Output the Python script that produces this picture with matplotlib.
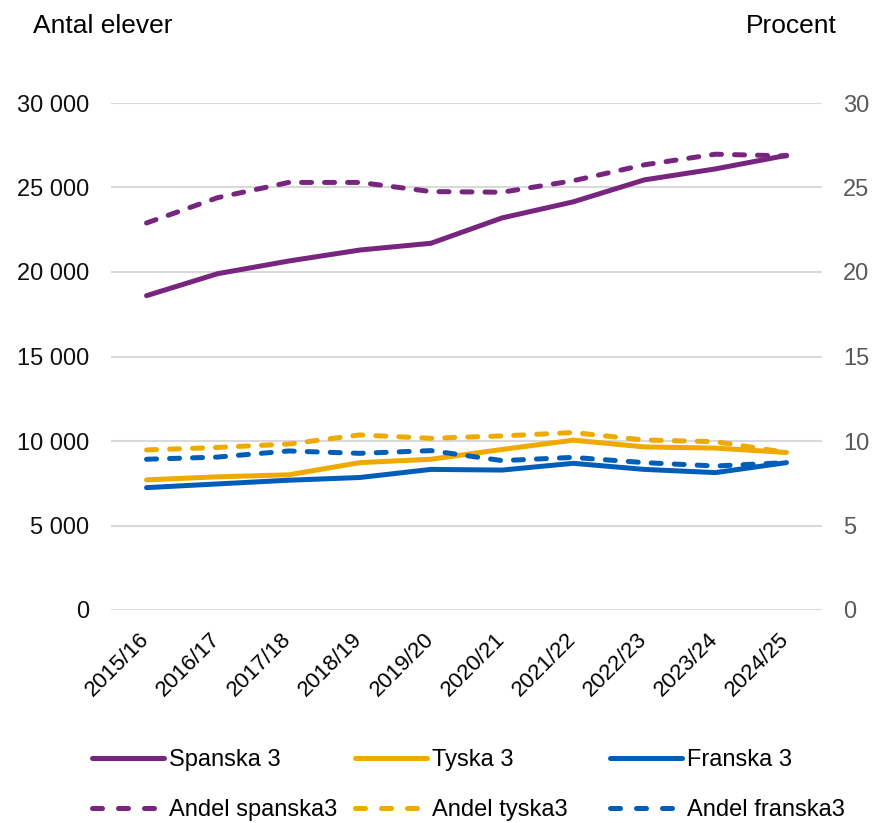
import matplotlib
matplotlib.use("Agg")
import matplotlib.pyplot as plt
from matplotlib.ticker import FuncFormatter
from matplotlib.lines import Line2D
import matplotlib.transforms as mtransforms

plt.rcParams['font.family'] = ['Liberation Sans', 'DejaVu Sans']

years = ["2015/16", "2016/17", "2017/18", "2018/19", "2019/20",
         "2020/21", "2021/22", "2022/23", "2023/24", "2024/25"]
spanska = [18600, 19900, 20650, 21300, 21700, 23200, 24150, 25450, 26100, 26900]
tyska = [7700, 7880, 8000, 8720, 8920, 9500, 10050, 9650, 9580, 9320]
franska = [7240, 7460, 7680, 7840, 8320, 8280, 8680, 8320, 8130, 8720]
andel_spanska = [22.9, 24.4, 25.3, 25.3, 24.76, 24.72, 25.4, 26.34, 26.97, 26.87]
andel_tyska = [9.47, 9.62, 9.82, 10.36, 10.16, 10.3, 10.5, 10.06, 9.96, 9.32]
andel_franska = [8.92, 9.05, 9.41, 9.27, 9.43, 8.84, 9.03, 8.72, 8.52, 8.72]

PURPLE = "#78257F"
YELLOW = "#EFAA00"
BLUE = "#005EB8"
lw = 3.6
dash = (0, (2.0, 2.6))
legend_dash = (0, (2.0, 3.2))

W, H = 872, 823
fig = plt.figure(figsize=(W / 100, H / 100), dpi=100)
ax = fig.add_axes([111/W, 1-610/H, (822-111)/W, (610-103)/H])
ax2 = ax.twinx()

x = list(range(len(years)))
kw = dict(lw=lw, solid_capstyle='round', dash_capstyle='round')
l1, = ax.plot(x, spanska, color=PURPLE, label="Spanska 3", **kw)
l2, = ax.plot(x, tyska, color=YELLOW, label="Tyska 3", **kw)
l3, = ax.plot(x, franska, color=BLUE, label="Franska 3", **kw)
d1, = ax2.plot(x, andel_spanska, color=PURPLE, ls=dash, label="Andel spanska3", **kw)
d2, = ax2.plot(x, andel_tyska, color=YELLOW, ls=dash, label="Andel tyska3", **kw)
d3, = ax2.plot(x, andel_franska, color=BLUE, ls=dash, label="Andel franska3", **kw)

ax.set_xlim(-0.5, 9.5)
ax.set_ylim(0, 30000)
ax2.set_ylim(0, 30)
ax.set_yticks(range(0, 30001, 5000))
ax2.set_yticks(range(0, 31, 5))
ax.yaxis.set_major_formatter(FuncFormatter(lambda v, p: f"{int(v):,}".replace(",", " ")))
ax.grid(axis='y', color='#D9D9D9', lw=1.5)
ax.set_axisbelow(True)
for a in (ax, ax2):
    for s in a.spines.values():
        s.set_visible(False)
ax.set_xticks(x)
ax.set_xticklabels(years, rotation=45, ha='right', va='top', rotation_mode='anchor')
ax.tick_params(axis='x', length=0, pad=8, labelsize=16, labelcolor='#000000')
ax.tick_params(axis='y', length=0, pad=16, labelsize=17, labelcolor='#111111')
ax2.tick_params(axis='y', length=0, pad=15, labelsize=17, labelcolor='#595959')
off = mtransforms.ScaledTranslation(-8/100, -8/100, fig.dpi_scale_trans)
for lab in ax.get_xticklabels():
    lab.set_transform(lab.get_transform() + off)

fig.text(33/W, 1-26/H, "Antal elever", fontsize=19, va='center', ha='left')
fig.text(837/W, 1-26/H, "Procent", fontsize=19, va='center', ha='right')

def proxy(line, dashed):
    return Line2D([], [], color=line.get_color(), lw=lw,
                  ls=legend_dash if dashed else '-',
                  solid_capstyle='round', dash_capstyle='round',
                  label=line.get_label())

cols = [(92, [l1, d1]), (355, [l2, d2]), (610, [l3, d3])]
for xpos, hs in cols:
    ph = [proxy(hs[0], False), proxy(hs[1], True)]
    fig.legend(handles=ph, labels=[h.get_label() for h in ph],
               ncol=1, loc='upper left', bbox_to_anchor=(xpos/W, 1-749/H),
               borderaxespad=0, borderpad=0, frameon=False, fontsize=17,
               handlelength=3.05, handletextpad=0.2, labelspacing=1.18)

fig.savefig("out.png", dpi=100)
